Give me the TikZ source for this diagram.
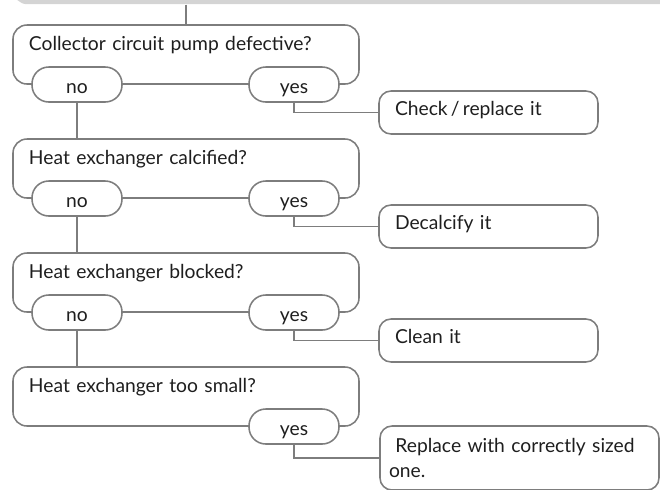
\documentclass[tikz,border=0pt]{standalone}
\usepackage{fontspec}
\setmainfont{Lato}
\definecolor{linegray}{RGB}{125,125,125}
\definecolor{bargray}{RGB}{212,212,212}
\definecolor{textdark}{RGB}{30,30,30}
\newcommand{\chartfont}{\fontsize{13.7}{17.8}\selectfont}

\begin{document}
\begin{tikzpicture}[
  question/.style={rectangle, draw=linegray, line width=1.1pt,
    rounded corners=0.35cm, text width=7.85cm, inner xsep=0.4cm,
    inner ysep=0.25cm, text height=0.375cm, text depth=0.6cm,
    align=left, font=\chartfont, text=textdark},
  pill/.style={rectangle, draw=linegray, line width=1.1pt, fill=white,
    rounded corners=0.42cm, minimum width=2.25cm, minimum height=0.875cm,
    inner sep=0pt, text height=0.5cm, text depth=0.05cm,
    font=\chartfont, text=textdark},
  answer/.style={rectangle, draw=linegray, line width=1.1pt,
    rounded corners=0.3cm, text width=4.675cm, inner xsep=0.4cm,
    minimum height=1.075cm, text height=0.3cm, text depth=0.175cm,
    align=left, font=\chartfont, text=textdark},
  prevbox/.style={rectangle, fill=bargray, rounded corners=0.35cm,
    minimum width=17cm, minimum height=1cm},
  link/.style={draw=linegray, line width=1.1pt},
]
\useasboundingbox (0, 0) rectangle (16.5, -12.225);
\clip (0, 0) rectangle (16.5, -12.225);

\node[prevbox, anchor=south west] (prev) at (0.325, -0.1125) {};

\node[question] (q1) at (4.65, -1.3625)
  {Collector circuit pump defective?};
\node[question] (q2) at (4.65, -4.2125)
  {Heat exchanger calcified?};
\node[question] (q3) at (4.65, -7.0625)
  {Heat exchanger blocked?};
\node[question] (q4) at (4.65, -9.9125)
  {Heat exchanger too small?};

\node[pill] (no1) at (1.925, -2.1125) {no};
\node[pill] (yes1) at (7.35, -2.1125) {yes};
\node[pill] (no2) at (1.925, -4.9625) {no};
\node[pill] (yes2) at (7.35, -4.9625) {yes};
\node[pill] (no3) at (1.925, -7.8125) {no};
\node[pill] (yes3) at (7.35, -7.8125) {yes};
\node[pill] (yes4) at (7.35, -10.6625) {yes};

\node[answer] (a1) at (12.2125, -2.8125)
  {Check\,/\,replace it};
\node[answer] (a2) at (12.2125, -5.6625)
  {Decalcify it};
\node[answer] (a3) at (12.2125, -8.5125)
  {Clean it};
\node[answer, text width=6.525cm, inner xsep=0.225cm, inner ysep=0.2cm,
  text height=0.45cm, text depth=0.75cm] (a4) at (12.9875, -11.45)
  {\ Replace with correctly sized\\one.};

\draw[link] (prev.south -| q1.north) -- (q1.north);
\draw[link] (no1.south) -- (no1 |- q2.north);
\draw[link] (no2.south) -- (no2 |- q3.north);
\draw[link] (no3.south) -- (no3 |- q4.north);

\draw[link] (yes1.south) |- (a1.west);
\draw[link] (yes2.south) |- (a2.west);
\draw[link] (yes3.south) |- (a3.west);
\draw[link] (yes4.south) |- (a4.west);

\end{tikzpicture}
\end{document}
